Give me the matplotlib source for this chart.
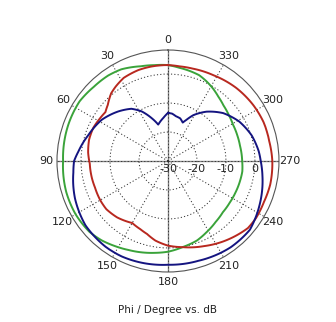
import numpy as np
import matplotlib
matplotlib.use('Agg')
import matplotlib.pyplot as plt

# phi in degrees, gain in dB
red_phi = [0, 10, 18, 28, 35, 40, 47, 52, 58, 66, 75, 84, 92, 103, 110, 120, 128, 138,
           150, 158, 164, 171, 180, 190, 203, 214, 222, 230, 237, 247, 257, 270, 281,
           292, 303, 317, 332, 345, 353, 360]
red_db = [3.1, 3.1, 3.0, 2.5, 1.4, 0.5, -1.6, -2.6, -2.3, -1.8, -1.8, -2.3, -3.0, -3.1,
          -3.2, -3.0, -3.0, -3.8, -5.3, -4.6, -3.8, -2.2, -0.8, 0.2, 1.9, 3.6, 4.8, 6.0,
          6.2, 6.0, 6.2, 6.0, 5.6, 5.6, 5.2, 4.5, 3.5, 3.0, 2.9, 3.1]

green_phi = [0, 8, 16, 27, 35, 45, 56, 70, 80, 90, 100, 107, 120, 132, 140, 148, 156,
             164, 172, 180, 190, 200, 208, 218, 227, 236, 245, 255, 262, 270, 282, 290,
             299, 307, 315, 322, 328, 334, 340, 347, 353, 360]
green_db = [3.1, 3.4, 4.0, 5.5, 6.0, 6.2, 6.8, 6.6, 6.4, 6.2, 6.5, 6.7, 6.8, 6.5, 5.7,
            4.6, 3.6, 2.8, 2.0, 1.3, 0.1, -0.8, -2.0, -3.3, -4.1, -4.3, -4.3, -4.2, -4.1,
            -4.4, -4.6, -4.5, -4.3, -3.7, -2.9, -1.8, -0.6, 0.5, 1.5, 2.0, 2.4, 3.1]

blue_phi = [0, 6, 15, 21, 28, 35, 45, 58, 72, 84, 90, 97, 112, 128, 144, 154, 164, 180,
            197, 216, 230, 244, 261, 270, 276, 287, 299, 311, 322, 331, 336, 339, 344,
            350, 355, 360]
blue_db = [-13.4, -15.0, -17.0, -14.1, -10.6, -8.0, -5.8, -3.1, -1.1, 1.1, 2.4, 2.9, 4.6,
           6.1, 6.6, 6.6, 6.3, 5.8, 6.0, 6.8, 6.9, 5.1, 3.0, 2.0, 1.5, 0.2, -1.9, -4.8,
           -8.4, -11.9, -14.5, -15.8, -14.7, -14.3, -13.6, -13.4]

angle_ticks = list(range(0, 360, 30))
ring_ticks = [-30, -20, -10, 0]
r_min, r_max = -30, 8.3

fig = plt.figure(figsize=(3.36, 3.22), dpi=100)
ax = fig.add_axes([0.1696, 0.1553, 0.6607, 0.6894], projection='polar')
ax.set_theta_zero_location('N')
ax.set_theta_direction(1)
ax.set_ylim(r_min, r_max)

ax.set_xticks(np.deg2rad(angle_ticks))
ax.set_xticklabels([str(a) for a in angle_ticks])
ax.set_yticks(ring_ticks[1:])
ax.set_yticklabels([])
ax.tick_params(axis='x', pad=-3, labelsize=8, labelcolor='#222')
ax.grid(True, color='#333', linestyle=(0, (1.2, 2.2)), linewidth=0.7)
ax.spines['polar'].set_color('#555')
ax.spines['polar'].set_linewidth(0.8)

# solid main axes
for a in [0, 90]:
    t = np.deg2rad(a)
    ax.plot([t, t + np.pi], [r_max, r_max], color='#888', lw=1.0, zorder=1.5)

for v in ring_ticks:
    ax.annotate(str(v), xy=(np.deg2rad(270), v), xytext=(0, -6),
                textcoords='offset points', ha='center', va='center',
                fontsize=8, color='#222')

series = [(green_phi, green_db, '#3aa33a'),
          (red_phi, red_db, '#b8281f'),
          (blue_phi, blue_db, '#141480')]
for phi, db, col in series:
    ln, = ax.plot(np.deg2rad(phi), db, color=col, lw=1.4, zorder=3)
    # draw segments as arcs in polar space instead of straight chords
    ln.get_path()._interpolation_steps = 24

fig.text(0.5, 1 - 310 / 322, 'Phi / Degree vs. dB', ha='center', va='center',
         fontsize=7.5, color='#222')

fig.savefig('out.png', dpi=100)
